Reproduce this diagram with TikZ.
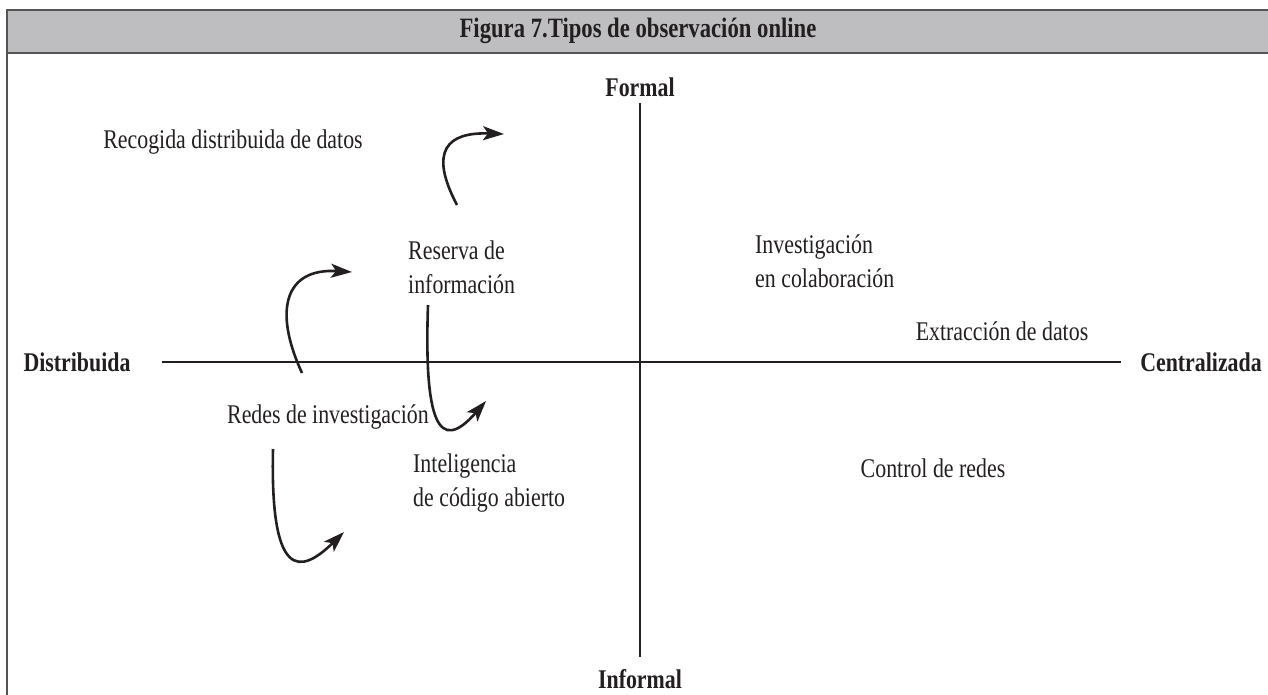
\documentclass[tikz,border=0pt]{standalone}
\usepackage{fontspec}
\setmainfont{Liberation Serif}[FakeStretch=0.81]
\usepackage{tikz}
\usetikzlibrary{arrows.meta}
\usetikzlibrary{positioning}
\usetikzlibrary{calc}
\definecolor{barfill}{RGB}{190,190,192}
\definecolor{barline}{RGB}{85,85,85}
\definecolor{ink}{RGB}{35,31,32}
\tikzstyle{lbl}=[font=\fontsize{27}{34}\selectfont, text=ink, inner sep=0pt, align=left]
\tikzstyle{axlbl}=[font=\fontsize{27}{30}\selectfont\bfseries, text=ink, inner sep=0pt]
\tikzstyle{axis}=[draw=ink, line width=1.1pt]
\tikzstyle{curve}=[draw=ink, line width=2.6pt, -{Stealth[length=21pt,width=14pt,inset=5pt]}]

\begin{document}
\begin{tikzpicture}[x=1pt, y=-1pt]
    \useasboundingbox (0,0) rectangle (1268,694);
    % frame and title bar
    \fill[barfill] (7,10) rectangle (1275,53);
    \draw[barline, line width=2pt] (1275,10) -- (7,10) -- (7,700);
    \draw[barline, line width=2pt] (7,53) -- (1275,53);
    \node[axlbl, font=\fontsize{28}{30}\selectfont\bfseries] (title) at (638,31) {Figura 7.Tipos de observación online};

    % axis labels
    \foreach \pos/\name/\label in {{(640,87)/formal/Formal}, {(640,679)/informal/Informal}, {(77,362)/dist/Distribuida}, {(1201,362)/cent/Centralizada}}
            \node[axlbl] (\name) at \pos {\label};

    % axes
    \coordinate (vt) at (640,103);
    \coordinate (vb) at (640,657);
    \coordinate (hl) at (162,362);
    \coordinate (hr) at (1121,362);
    \draw[axis] (vt) -- (vb);
    \draw[axis] (hl) -- (hr);

    % quadrant texts
    \node[lbl] (recogida) at (233,142) {Recogida distribuida de datos};
    \node[lbl, anchor=west] (reserva) at (408,267) {Reserva de\\información};
    \node[lbl, anchor=west] (investig) at (755,261) {Investigación\\en colaboración};
    \node[lbl] (extraccion) at (1002,331) {Extracción de datos};
    \node[lbl] (redes) at (328,417) {Redes de investigación};
    \node[lbl, anchor=west] (intelig) at (413,483) {Inteligencia\\de código abierto};
    \node[lbl] (control) at (933,468) {Control de redes};

    % curved arrows
    \coordinate (a1s) at (457,205);
    \coordinate (a1e) at (504,134);
    \draw[curve] (a1s) .. controls (428,150) and (448,132) .. (a1e);
    \coordinate (a2s) at (302,373);
    \coordinate (a2e) at (352,272);
    \draw[curve] (a2s) .. controls (273,310) and (285,268) .. (a2e);
    \coordinate (a3s) at (428,305);
    \coordinate (a3e) at (486,401);
    \draw[curve] (a3s) .. controls (424,420) and (438,456) .. (a3e);
    \coordinate (a4s) at (273,449);
    \coordinate (a4e) at (344,532);
    \draw[curve] (a4s) .. controls (270,580) and (300,575) .. (a4e);
\end{tikzpicture}
\end{document}
